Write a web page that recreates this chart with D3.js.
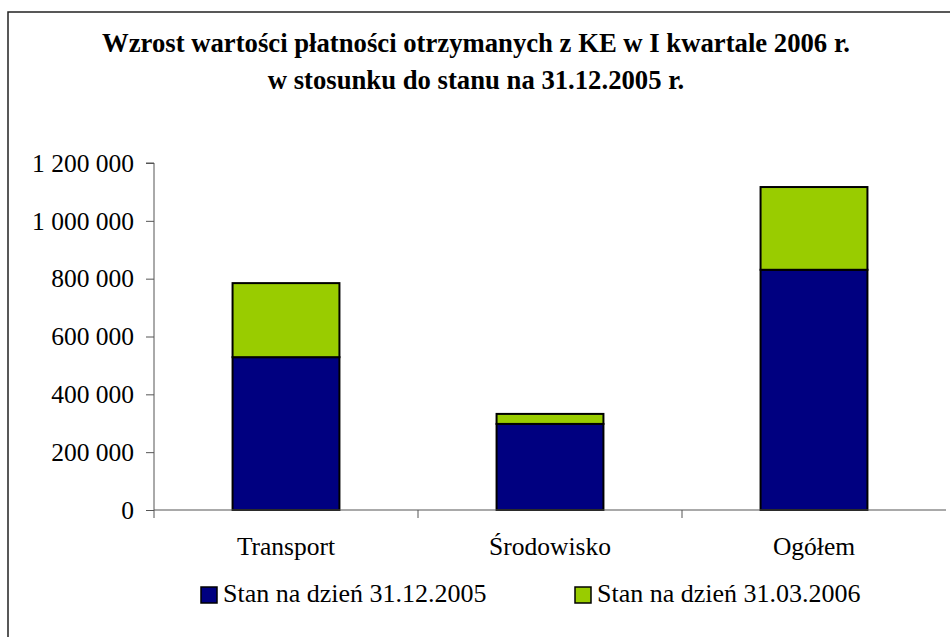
<!DOCTYPE html>
<html>
<head>
<meta charset="utf-8">
<script src="https://cdn.jsdelivr.net/npm/d3@7"></script>
<style>
  body { margin: 0; background: #fff; }
  svg text { font-family: "Liberation Serif", "Times New Roman", serif; }
</style>
</head>
<body>
<div id="chart"></div>
<script>
const categories = ["Transport", "Środowisko", "Ogółem"];
const seriesNames = ["Stan na dzień 31.12.2005", "Stan na dzień 31.03.2006"];
// stan na 31.12.2005
const stan2005 = [528500, 297700, 830700];
// przyrost do 31.03.2006
const przyrost2006 = [256100, 34600, 286200];
const yTicks = [0, 200000, 400000, 600000, 800000, 1000000, 1200000];
const colors = ["#000080", "#99cc00"];

const width = 950, height = 637;
const margin = { left: 154, right: 4, top: 163, bottom: 127 };
const serif = "'Liberation Serif', 'Times New Roman', serif";

const svg = d3.select("#chart").append("svg")
    .attr("width", width)
    .attr("height", height);

// ramka wykresu
svg.append("rect")
    .attr("x", 8).attr("y", 12)
    .attr("width", 960).attr("height", 640)
    .attr("fill", "none")
    .attr("stroke", "#222")
    .attr("stroke-width", 1.5);

// tytuł
const title = svg.append("text")
    .attr("text-anchor", "middle")
    .style("font-family", serif)
    .style("font-weight", "bold")
    .style("font-size", "26.7px")
    .attr("fill", "#000");
title.append("tspan").attr("x", 476).attr("y", 52)
    .text("Wzrost wartości płatności otrzymanych z KE w I kwartale 2006 r.");
title.append("tspan").attr("x", 476).attr("y", 89)
    .text("w stosunku do stanu na 31.12.2005 r.");

const x = d3.scaleBand()
    .domain(categories)
    .range([margin.left, width - margin.right])
    .padding(0);

const y = d3.scaleLinear()
    .domain([0, 1200000])
    .range([height - margin.bottom, margin.top]);

const fmt = v => d3.format(",")(v).replace(/,/g, " ");

// oś Y
const yAxis = svg.append("g")
    .attr("transform", `translate(${margin.left},0)`)
    .call(d3.axisLeft(y).tickValues(yTicks).tickFormat(fmt).tickSize(8).tickPadding(12));
yAxis.attr("font-family", null).attr("font-size", null);
yAxis.select(".domain").attr("stroke", "#555").attr("d", `M-8,${y(1200000)}H0V${y(0) + 8}`);
yAxis.selectAll(".tick line").attr("stroke", "#555");
yAxis.selectAll(".tick text")
    .style("font-family", serif)
    .style("font-size", "25.5px")
    .attr("fill", "#000");

// słupki skumulowane
const rows = categories.map((c, i) => ({ cat: c, a: stan2005[i], b: przyrost2006[i] }));
const stacked = d3.stack().keys(["a", "b"])(rows);
const barW = x.bandwidth() / 2.47;

svg.append("g")
    .selectAll("g")
    .data(stacked)
    .join("g")
    .attr("fill", (d, i) => colors[i])
    .selectAll("rect")
    .data(d => d)
    .join("rect")
    .attr("x", d => x(d.data.cat) + (x.bandwidth() - barW) / 2)
    .attr("y", d => y(d[1]))
    .attr("width", barW)
    .attr("height", d => y(d[0]) - y(d[1]))
    .attr("stroke", "#000")
    .attr("stroke-width", 2);

// oś X
const xAxis = svg.append("g")
    .attr("transform", `translate(0,${y(0)})`);
xAxis.append("line")
    .attr("x1", margin.left).attr("x2", width - margin.right)
    .attr("stroke", "#555");
xAxis.selectAll("line.tk")
    .data(categories.slice(1))
    .join("line")
    .attr("class", "tk")
    .attr("x1", d => x(d)).attr("x2", d => x(d))
    .attr("y1", 0).attr("y2", 8)
    .attr("stroke", "#555");
xAxis.selectAll("text")
    .data(categories)
    .join("text")
    .attr("x", d => x(d) + x.bandwidth() / 2)
    .attr("y", 45)
    .attr("text-anchor", "middle")
    .style("font-family", serif)
    .style("font-size", "25.5px")
    .text(d => d);

// legenda
const legendX = [201, 575];
const legend = svg.append("g")
    .selectAll("g")
    .data(seriesNames)
    .join("g")
    .attr("transform", (d, i) => `translate(${legendX[i]},587)`);
legend.append("rect")
    .attr("width", 16).attr("height", 16)
    .attr("fill", (d, i) => colors[i])
    .attr("stroke", "#000").attr("stroke-width", 1.5);
legend.append("text")
    .attr("x", 22).attr("y", 15)
    .style("font-family", serif)
    .style("font-size", "26px")
    .text(d => d);
</script>
</body>
</html>
